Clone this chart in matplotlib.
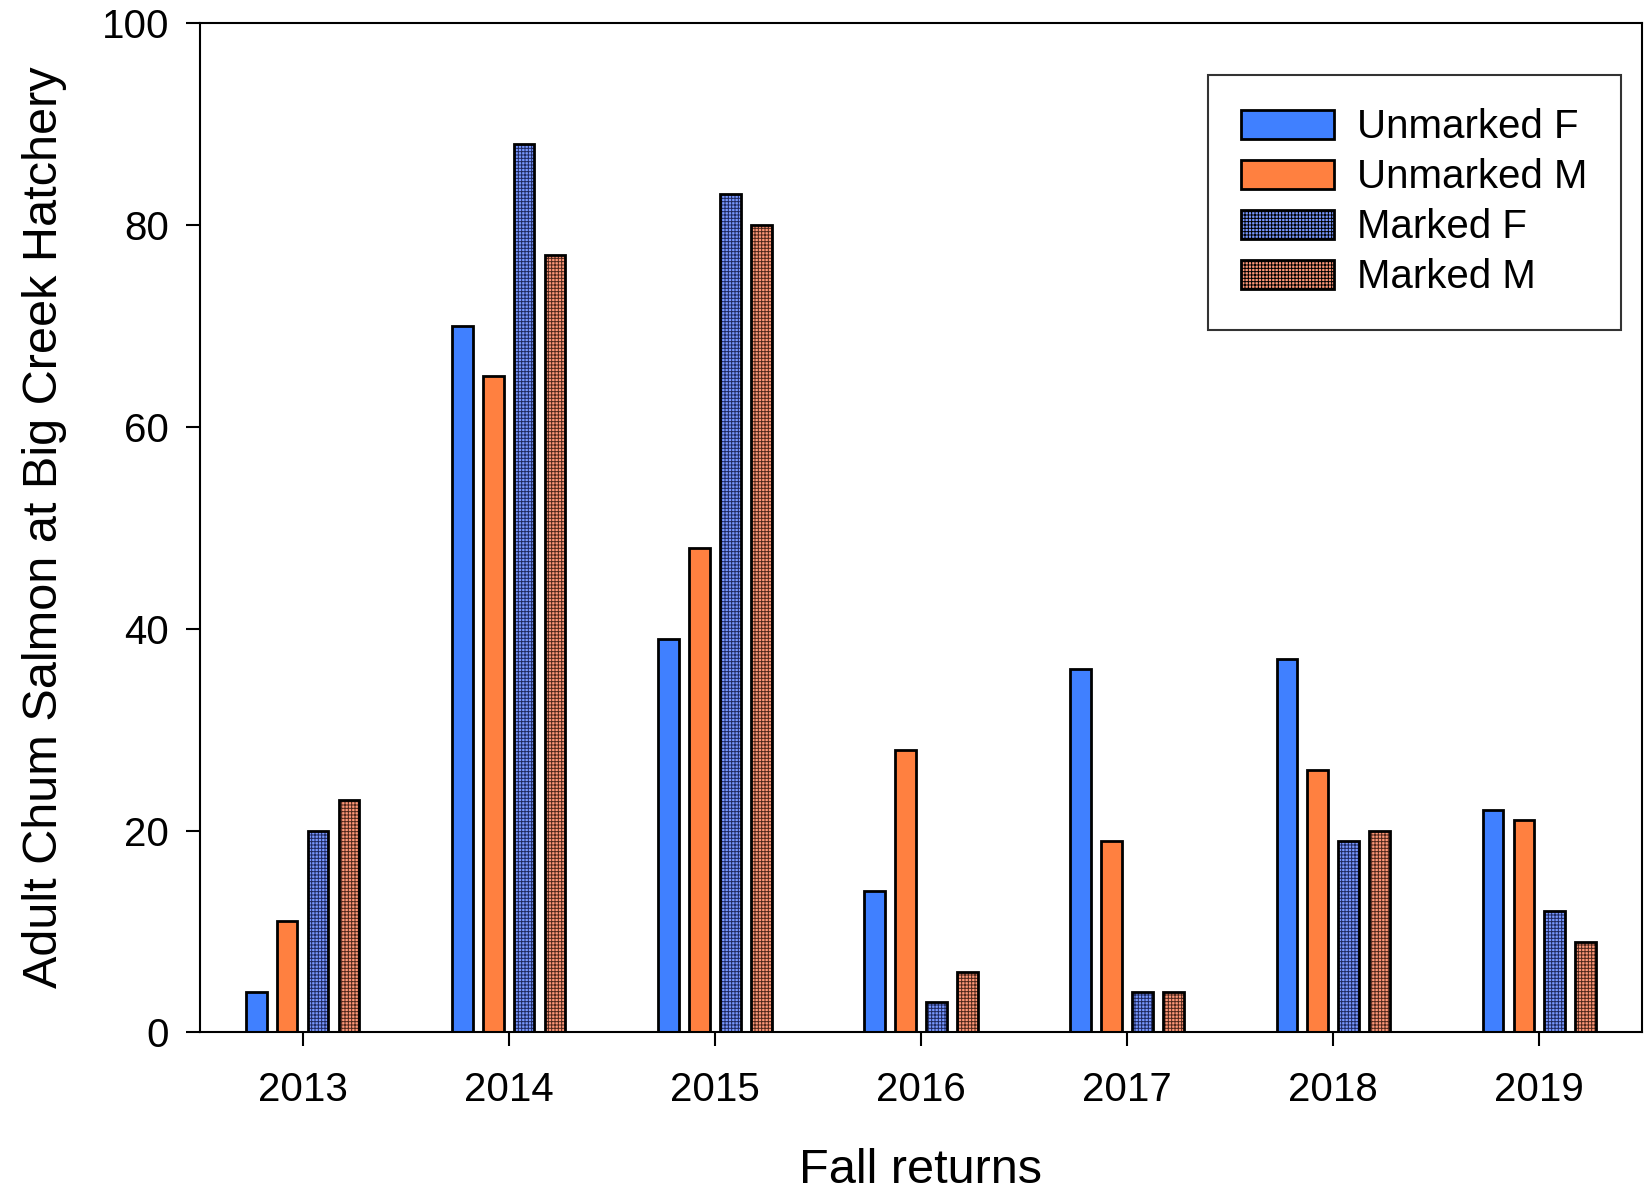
import numpy as np
import matplotlib.pyplot as plt

plt.rcParams['font.family'] = ['Liberation Sans', 'DejaVu Sans']
plt.rcParams['hatch.linewidth'] = 0.7

years = [2013, 2014, 2015, 2016, 2017, 2018, 2019]
unmarked_f = [4, 70, 39, 14, 36, 37, 22]
unmarked_m = [11, 65, 48, 28, 19, 26, 21]
marked_f = [20, 88, 83, 3, 4, 19, 12]
marked_m = [23, 77, 80, 6, 4, 20, 9]

series = [
    ('Unmarked F', unmarked_f, '#4080ff', None, None),
    ('Unmarked M', unmarked_m, '#ff8040', None, None),
    ('Marked F', marked_f, '#7898ff', '+++++', '#202a60'),
    ('Marked M', marked_m, '#ff9878', '+++++', '#50281c'),
]

fig = plt.figure(figsize=(16.49, 11.95), dpi=100)
ax = fig.add_axes([0.121, 0.136, 0.875, 0.845])

x = np.array(years, dtype=float)
offsets = [-0.225, -0.075, 0.075, 0.225]
width = 0.1
for (name, vals, col, hatch, hcol), off in zip(series, offsets):
    bars = ax.bar(x + off, vals, width, color=col, edgecolor='black',
                  linewidth=2, label=name, hatch=hatch)
    if hatch:
        for b in bars:
            b.set_edgecolor(hcol)
            b.set_linewidth(0)
        ax.bar(x + off, vals, width, facecolor='none', edgecolor='black', linewidth=2)

ax.set_xlim(2012.5, 2019.5)
ax.set_ylim(0, 100)
ax.set_xticks(years)
ax.set_yticks([0, 20, 40, 60, 80, 100])
ax.tick_params(direction='out', length=10, width=1.5, labelsize=29)
ax.tick_params(axis='x', pad=18)
ax.tick_params(axis='y', pad=12)
for s in ax.spines.values():
    s.set_linewidth(1.5)

ax.set_xlabel('Fall returns', fontsize=35, labelpad=28)
ax.set_ylabel('Adult Chum Salmon at Big Creek Hatchery', fontsize=35, labelpad=25)

# legend with black outlines on patches
handles, labels = ax.get_legend_handles_labels()
leg = ax.legend(handles, labels, loc='upper right', bbox_to_anchor=(0.985, 0.948),
                fontsize=29, frameon=True, fancybox=False, edgecolor='black',
                handlelength=2.3, handleheight=0.72, borderpad=0.82,
                labelspacing=0.3, handletextpad=0.58, borderaxespad=0)
leg.get_frame().set_linewidth(1.5)
for p in leg.get_patches():
    p.set_linewidth(2)
    p.set_edgecolor('black')

fig.savefig('out.png', dpi=100)
